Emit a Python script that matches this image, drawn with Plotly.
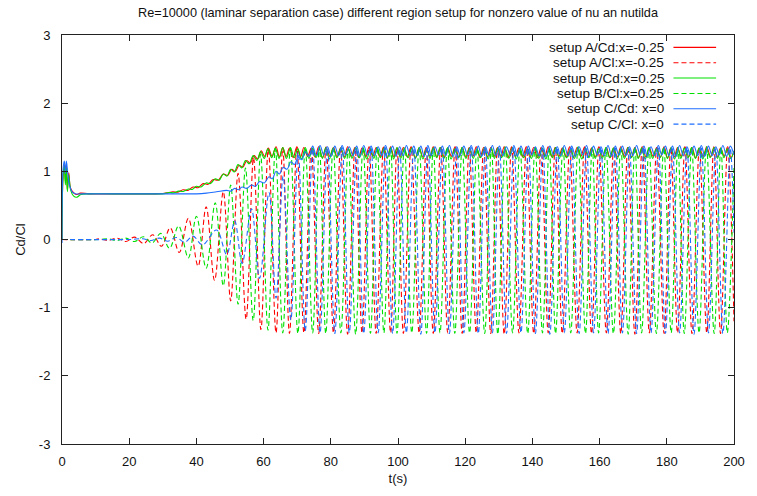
import plotly.graph_objects as go

# ---------------- data ----------------
title_text = "Re=10000 (laminar separation case) different region setup for nonzero value of nu an nutilda"
x_label = "t(s)"
y_label = "Cd/Cl"
x_tick_vals = [0, 20, 40, 60, 80, 100, 120, 140, 160, 180, 200]
x_tick_text = ["0", "20", "40", "60", "80", "100", "120", "140", "160", "180", "200"]
y_tick_vals = [-3, -2, -1, 0, 1, 2, 3]
y_tick_text = ["-3", "-2", "-1", "0", "1", "2", "3"]

series_names = ["setup A/Cd:x=-0.25", "setup A/Cl:x=-0.25", "setup B/Cd:x=0.25",
                "setup B/Cl:x=0.25", "setup C/Cd: x=0", "setup C/Cl: x=0"]
series_colors = ["#ff0000", "#ff0000", "#00e000", "#00e000", "#1e6eff", "#1e6eff"]
series_dashed = [False, True, False, True, False, True]

# ---- setup A, Cd (turning points) ----
cd_a_t = ([0, 0.3, 0.7, 1.0, 1.3, 1.6, 2.0, 2.5, 3.2, 4.2, 5.5, 8, 15, 22, 28]
          + [30, 31.6, 33.0, 34.5, 36.0, 37.5, 39.0, 40.5, 42.0, 43.5, 45.0, 46.5, 48.0,
             49.3, 50.5, 51.6, 52.7, 53.8, 55.0, 56.0, 57.2, 58.2, 59.3, 60.3, 61.4, 62.5]
          + [63.7, 64.7, 65.7, 66.7, 67.7, 68.8, 69.9, 71.0, 72.0, 73.1,
             74.2, 75.3, 76.4, 77.5, 78.6, 79.7, 80.8, 81.9, 82.9, 84.0,
             85.0, 86.1, 87.2, 88.3, 89.3, 90.4, 91.4, 92.5, 93.5, 94.6,
             95.7, 96.8, 97.8, 98.8, 99.7, 100.7, 101.6, 102.8, 103.9, 105.1,
             106.3, 107.4, 108.4, 109.5, 110.5, 111.6, 112.7, 113.8, 114.8, 115.9,
             117.0, 118.1, 119.1, 120.2, 121.2, 122.3, 123.3, 124.4, 125.5, 126.6,
             127.6, 128.6, 129.6, 130.6, 131.6, 132.7, 133.8, 134.9, 136.0, 137.1,
             138.2, 139.3, 140.4, 141.5, 142.6, 143.7, 144.7, 145.8, 146.8, 147.9,
             148.9, 150.0, 151.1, 152.2, 153.3, 154.4, 155.5, 156.6, 157.6, 158.7,
             159.8, 160.9, 162.0, 163.1, 164.2, 165.3, 166.3, 167.4, 168.4, 169.5,
             170.5, 171.6, 172.7, 173.8, 174.8, 175.9, 177.0, 178.1, 179.2, 180.2,
             181.2, 182.2, 183.2, 184.3, 185.4, 186.5, 187.5, 188.6, 189.7, 190.8,
             191.9, 193.0, 194.0, 195.0, 196.0, 197.1, 198.1, 199.1, 200.0])
cd_a_v = ([0.0, 0.92, 1.10, 0.85, 1.08, 0.72, 0.98, 0.76, 0.70, 0.66, 0.68, 0.67, 0.67, 0.67, 0.67]
          + [0.675, 0.685, 0.70, 0.695, 0.73, 0.72, 0.77, 0.76, 0.82, 0.81, 0.88, 0.87, 0.96,
             0.94, 1.03, 1.00, 1.09, 1.06, 1.16, 1.12, 1.23, 1.18, 1.30, 1.22, 1.34, 1.22]
          + [1.36, 1.21, 1.35, 1.22, 1.34, 1.20, 1.36, 1.21, 1.35, 1.22,
             1.34, 1.21, 1.36, 1.20, 1.35, 1.22, 1.35, 1.21, 1.34, 1.21,
             1.36, 1.22, 1.35, 1.20, 1.34, 1.21, 1.36, 1.22, 1.35, 1.21,
             1.35, 1.20, 1.36, 1.21, 1.34, 1.22, 1.35, 1.21, 1.36, 1.20,
             1.34, 1.21, 1.35, 1.22, 1.36, 1.21, 1.35, 1.20, 1.34, 1.22,
             1.36, 1.21, 1.35, 1.21, 1.34, 1.22, 1.36, 1.20, 1.35, 1.21,
             1.35, 1.22, 1.34, 1.21, 1.36, 1.20, 1.35, 1.22, 1.34, 1.21,
             1.36, 1.21, 1.35, 1.20, 1.34, 1.22, 1.36, 1.21, 1.35, 1.22,
             1.34, 1.21, 1.36, 1.20, 1.35, 1.22, 1.35, 1.21, 1.34, 1.21,
             1.36, 1.22, 1.35, 1.20, 1.34, 1.21, 1.36, 1.22, 1.35, 1.21,
             1.35, 1.20, 1.36, 1.21, 1.34, 1.22, 1.35, 1.21, 1.36, 1.20,
             1.34, 1.21, 1.35, 1.22, 1.36, 1.21, 1.35, 1.20, 1.34, 1.22,
             1.36, 1.21, 1.35, 1.21, 1.34, 1.22, 1.36, 1.20, 1.30])

# ---- setup A, Cl (peaks and troughs) ----
cl_a_t = [0, 10, 11, 13.7, 16.4, 19.0, 21.6, 24.3, 27.0, 29.6,
          32.2, 34.9, 37.6, 40.5, 42.9, 45.4, 48.0, 50.2, 52.4, 54.8,
          57.0, 59.2, 61.4, 63.7, 65.7, 67.7, 69.9, 72.0, 74.2, 76.4,
          78.6, 80.8, 82.9, 85.0, 87.2, 89.3, 91.4, 93.5, 95.7, 97.8,
          99.7, 101.6, 103.9, 106.3, 108.4, 110.5, 112.7, 114.8, 117.0, 119.1,
          121.2, 123.3, 125.5, 127.6, 129.6, 131.6, 133.8, 136.0, 138.2, 140.4,
          142.6, 144.7, 146.8, 148.9, 151.1, 153.3, 155.5, 157.6, 159.8, 162.0,
          164.2, 166.3, 168.4, 170.5, 172.7, 174.8, 177.0, 179.2, 181.2, 183.2,
          185.4, 187.5, 189.7, 191.9, 194.0, 196.0, 198.1, 200.0]
cl_a_v = [0, 0, 0.01, -0.015, 0.02, -0.03, 0.035, -0.06, 0.07, -0.10,
          0.17, -0.19, 0.31, -0.39, 0.48, -0.60, 0.70, -0.90, 0.97, -1.17,
          1.20, -1.32, 1.32, -1.37, 1.34, -1.38, 1.35, -1.37, 1.34, -1.38,
          1.36, -1.37, 1.35, -1.39, 1.34, -1.37, 1.35, -1.38, 1.36, -1.37,
          1.34, -1.38, 1.35, -1.37, 1.35, -1.38, 1.34, -1.37, 1.36, -1.38,
          1.35, -1.37, 1.34, -1.38, 1.35, -1.39, 1.36, -1.37, 1.34, -1.38,
          1.35, -1.37, 1.35, -1.38, 1.34, -1.37, 1.36, -1.38, 1.35, -1.37,
          1.34, -1.38, 1.35, -1.39, 1.36, -1.37, 1.34, -1.38, 1.35, -1.37,
          1.35, -1.38, 1.34, -1.37, 1.36, -1.38, 1.35, -1.2]

# ---- setup B, Cd ----
cd_b_t = ([0, 0.3, 0.7, 1.0, 1.3, 1.6, 2.0, 2.6, 3.4, 4.4, 5.6, 8, 15, 22, 28]
          + [30, 32.0, 33.3, 34.7, 36.1, 37.6, 38.8, 40.0, 41.4, 42.9, 44.2, 45.6, 46.8, 48.0,
             49.1, 50.2, 51.3, 52.4, 53.5, 54.6, 55.7, 56.9, 58.0, 59.1, 60.2, 61.3, 62.4, 63.5, 64.6]
          + [65.7, 66.8, 68.0, 69.1, 70.2, 71.3, 72.4, 73.5, 74.6, 75.6,
             76.6, 77.5, 78.5, 79.6, 80.7, 81.8, 83.0, 84.1, 85.2, 86.3,
             87.4, 88.5, 89.6, 90.7, 91.8, 92.8, 93.8, 94.8, 95.8, 96.8,
             97.8, 98.7, 99.7, 100.8, 101.9, 103.0, 104.1, 105.2, 106.3, 107.4,
             108.5, 109.5, 110.5, 111.5, 112.5, 113.6, 114.7, 115.8, 116.9, 118.0,
             119.1, 120.2, 121.3, 122.4, 123.5, 124.6, 125.8, 126.8, 127.8, 128.7,
             129.7, 130.8, 131.9, 133.0, 134.1, 135.2, 136.3, 137.4, 138.6, 139.7,
             140.8, 141.9, 143.0, 144.0, 145.0, 146.0, 146.9, 148.0, 149.1, 150.2,
             151.4, 152.5, 153.6, 154.7, 155.8, 156.8, 157.8, 158.7, 159.7, 160.8,
             161.9, 163.0, 164.1, 165.2, 166.3, 167.4, 168.5, 169.5, 170.5, 171.5,
             172.5, 173.6, 174.7, 175.8, 176.9, 178.0, 179.1, 180.2, 181.3, 182.3,
             183.3, 184.2, 185.2, 186.3, 187.4, 188.5, 189.6, 190.7, 191.8, 192.9,
             194.1, 195.1, 196.1, 197.0, 198.0, 199.0, 200.0])
cd_b_v = ([0.0, 0.90, 1.08, 0.80, 1.05, 0.70, 0.95, 0.72, 0.64, 0.62, 0.66, 0.67, 0.67, 0.67, 0.67]
          + [0.67, 0.69, 0.685, 0.71, 0.705, 0.74, 0.735, 0.78, 0.77, 0.83, 0.82, 0.89, 0.87, 0.96,
             0.93, 1.03, 0.99, 1.10, 1.05, 1.16, 1.11, 1.23, 1.16, 1.29, 1.19, 1.33, 1.20, 1.34, 1.19]
          + [1.35, 1.19, 1.34, 1.20, 1.33, 1.18, 1.35, 1.19, 1.34, 1.20,
             1.33, 1.19, 1.35, 1.18, 1.34, 1.20, 1.34, 1.19, 1.33, 1.19,
             1.35, 1.20, 1.34, 1.18, 1.33, 1.19, 1.35, 1.20, 1.34, 1.19,
             1.34, 1.18, 1.35, 1.19, 1.33, 1.20, 1.34, 1.19, 1.35, 1.18,
             1.33, 1.19, 1.34, 1.20, 1.35, 1.19, 1.34, 1.18, 1.33, 1.20,
             1.35, 1.19, 1.34, 1.19, 1.33, 1.20, 1.35, 1.18, 1.34, 1.19,
             1.34, 1.20, 1.33, 1.19, 1.35, 1.18, 1.34, 1.20, 1.33, 1.19,
             1.35, 1.19, 1.34, 1.18, 1.33, 1.20, 1.35, 1.19, 1.34, 1.20,
             1.33, 1.19, 1.35, 1.18, 1.34, 1.20, 1.34, 1.19, 1.33, 1.19,
             1.35, 1.20, 1.34, 1.18, 1.33, 1.19, 1.35, 1.20, 1.34, 1.19,
             1.34, 1.18, 1.35, 1.19, 1.33, 1.20, 1.34, 1.19, 1.35, 1.18,
             1.33, 1.19, 1.34, 1.20, 1.35, 1.19, 1.34, 1.18, 1.33, 1.20,
             1.35, 1.19, 1.34, 1.20, 1.33, 1.19, 1.30])

# ---- setup B, Cl ----
cl_b_t = [0, 11, 13.8, 16.4, 19.0, 21.6, 24.2, 26.8, 29.4, 32.0,
          34.7, 37.6, 40.0, 42.9, 45.6, 48.0, 50.2, 52.4, 54.6, 56.9,
          59.1, 61.3, 63.5, 65.7, 68.0, 70.2, 72.4, 74.6, 76.6, 78.5,
          80.7, 83.0, 85.2, 87.4, 89.6, 91.8, 93.8, 95.8, 97.8, 99.7,
          101.9, 104.1, 106.3, 108.5, 110.5, 112.5, 114.7, 116.9, 119.1, 121.3,
          123.5, 125.8, 127.8, 129.7, 131.9, 134.1, 136.3, 138.6, 140.8, 143.0,
          145.0, 146.9, 149.1, 151.4, 153.6, 155.8, 157.8, 159.7, 161.9, 164.1,
          166.3, 168.5, 170.5, 172.5, 174.7, 176.9, 179.1, 181.3, 183.3, 185.2,
          187.4, 189.6, 191.8, 194.1, 196.1, 198.0, 200.0]
cl_b_v = [0, 0, 0.01, -0.015, 0.02, -0.03, 0.04, -0.05, 0.09, -0.13,
          0.20, -0.27, 0.34, -0.42, 0.54, -0.68, 0.80, -0.95, 1.05, -1.19,
          1.25, -1.33, 1.33, -1.37, 1.35, -1.38, 1.34, -1.37, 1.36, -1.38,
          1.35, -1.37, 1.34, -1.39, 1.35, -1.38, 1.36, -1.37, 1.34, -1.38,
          1.35, -1.37, 1.35, -1.38, 1.34, -1.37, 1.36, -1.38, 1.35, -1.37,
          1.34, -1.38, 1.35, -1.39, 1.36, -1.37, 1.34, -1.38, 1.35, -1.37,
          1.35, -1.38, 1.34, -1.37, 1.36, -1.38, 1.35, -1.37, 1.34, -1.38,
          1.35, -1.39, 1.36, -1.37, 1.34, -1.38, 1.35, -1.37, 1.35, -1.38,
          1.34, -1.37, 1.36, -1.38, 1.35, -1.37, 1.1]

# ---- setup C, Cd ----
cd_c_t = ([0, 0.3, 0.7, 1.0, 1.3, 1.7, 2.2, 3.0, 4.0, 6, 15, 25, 35, 40]
          + [43, 46, 49.0, 50.2, 51.4, 52.5, 53.6, 55.0, 56.4, 57.6, 58.8, 60.2, 61.6, 62.6,
             63.7, 64.7, 65.8, 67.0, 68.1, 69.2, 70.3, 71.4, 72.4, 73.5]
          + [74.6, 75.7, 76.8, 77.9, 79.0, 80.1, 81.2, 82.3, 83.4, 84.4,
             85.5, 86.6, 87.7, 88.7, 89.8, 90.9, 92.0, 93.0, 94.1, 95.2,
             96.3, 97.3, 98.4, 99.4, 100.5, 101.5, 102.5, 103.6, 104.7, 105.7,
             106.8, 107.8, 108.9, 109.9, 111.0, 112.1, 113.2, 114.2, 115.3, 116.4,
             117.5, 118.5, 119.6, 120.7, 121.8, 122.8, 123.9, 124.9, 126.0, 127.0,
             128.1, 129.1, 130.2, 131.2, 132.3, 133.4, 134.5, 135.5, 136.6, 137.7,
             138.8, 139.8, 140.9, 142.0, 143.1, 144.1, 145.2, 146.3, 147.4, 148.4,
             149.5, 150.6, 151.7, 152.8, 153.9, 155.0, 156.1, 157.1, 158.2, 159.3,
             160.4, 161.4, 162.5, 163.6, 164.7, 165.7, 166.8, 167.8, 168.9, 169.9,
             171.0, 172.1, 173.2, 174.2, 175.3, 176.4, 177.5, 178.5, 179.6, 180.6,
             181.7, 182.7, 183.8, 184.9, 186.0, 187.0, 188.1, 189.2, 190.3, 191.3,
             192.4, 193.5, 194.6, 195.6, 196.7, 197.8, 198.9, 200.0])
cd_c_v = ([-0.05, 1.02, 1.15, 0.97, 1.15, 0.98, 0.80, 0.70, 0.67, 0.67, 0.67, 0.67, 0.67, 0.67]
          + [0.68, 0.70, 0.72, 0.71, 0.75, 0.73, 0.77, 0.75, 0.80, 0.78, 0.85, 0.83, 0.92, 0.89,
             1.00, 0.96, 1.06, 1.03, 1.14, 1.10, 1.21, 1.17, 1.29, 1.22]
          + [1.37, 1.23, 1.38, 1.24, 1.36, 1.22, 1.37, 1.23, 1.38, 1.24,
             1.36, 1.23, 1.37, 1.22, 1.38, 1.24, 1.37, 1.23, 1.36, 1.23,
             1.38, 1.24, 1.37, 1.22, 1.36, 1.23, 1.38, 1.24, 1.37, 1.23,
             1.37, 1.22, 1.38, 1.23, 1.36, 1.24, 1.37, 1.23, 1.38, 1.22,
             1.36, 1.23, 1.37, 1.24, 1.38, 1.23, 1.37, 1.22, 1.36, 1.24,
             1.38, 1.23, 1.37, 1.23, 1.36, 1.24, 1.38, 1.22, 1.37, 1.23,
             1.37, 1.24, 1.36, 1.23, 1.38, 1.22, 1.37, 1.24, 1.36, 1.23,
             1.38, 1.23, 1.37, 1.22, 1.36, 1.24, 1.38, 1.23, 1.37, 1.24,
             1.36, 1.23, 1.38, 1.22, 1.37, 1.24, 1.37, 1.23, 1.36, 1.23,
             1.38, 1.24, 1.37, 1.22, 1.36, 1.23, 1.38, 1.24, 1.37, 1.23,
             1.37, 1.22, 1.38, 1.23, 1.36, 1.24, 1.37, 1.23, 1.38, 1.22,
             1.37, 1.23, 1.36, 1.24, 1.38, 1.22, 1.37, 1.24])

# ---- setup C, Cl ----
cl_c_t = [0, 20, 24.0, 26.5, 29.0, 31.5, 34.0, 36.5, 39.0, 41.8,
          46.0, 49.0, 51.4, 53.6, 56.4, 58.8, 61.6, 63.7, 65.8, 68.1,
          70.3, 72.4, 74.6, 76.8, 79.0, 81.2, 83.4, 85.5, 87.7, 89.8,
          92.0, 94.1, 96.3, 98.4, 100.5, 102.5, 104.7, 106.8, 108.9, 111.0,
          113.2, 115.3, 117.5, 119.6, 121.8, 123.9, 126.0, 128.1, 130.2, 132.3,
          134.5, 136.6, 138.8, 140.9, 143.1, 145.2, 147.4, 149.5, 151.7, 153.9,
          156.1, 158.2, 160.4, 162.5, 164.7, 166.8, 168.9, 171.0, 173.2, 175.3,
          177.5, 179.6, 181.7, 183.8, 186.0, 188.1, 190.3, 192.4, 194.6, 196.7,
          198.9, 200.0]
cl_c_v = [0, 0, 0.01, -0.015, 0.02, -0.025, 0.03, -0.04, 0.05, -0.08,
          0.14, -0.22, 0.27, -0.35, 0.45, -0.57, 0.69, -0.86, 0.93, -1.18,
          1.28, -1.34, 1.33, -1.37, 1.34, -1.38, 1.35, -1.37, 1.33, -1.38,
          1.34, -1.37, 1.35, -1.38, 1.33, -1.37, 1.34, -1.39, 1.35, -1.37,
          1.34, -1.38, 1.33, -1.37, 1.35, -1.38, 1.34, -1.37, 1.33, -1.38,
          1.35, -1.37, 1.34, -1.38, 1.33, -1.39, 1.35, -1.37, 1.34, -1.38,
          1.33, -1.37, 1.35, -1.38, 1.34, -1.37, 1.33, -1.38, 1.35, -1.37,
          1.34, -1.38, 1.33, -1.37, 1.35, -1.39, 1.34, -1.37, 1.33, -1.38,
          1.34, 0.1]

series_t = [cd_a_t, cl_a_t, cd_b_t, cl_b_t, cd_c_t, cl_c_t]
series_v = [cd_a_v, cl_a_v, cd_b_v, cl_b_v, cd_c_v, cl_c_v]

# ---------------- figure ----------------
FONT = "Liberation Sans, Arial, Helvetica, sans-serif"
fig = go.Figure()
for name, t, v, col, dashed in zip(series_names, series_t, series_v, series_colors, series_dashed):
    n = min(len(t), len(v))
    fig.add_trace(go.Scatter(
        x=t[:n], y=v[:n], mode="lines", name=name, showlegend=False,
        line=dict(color=col, width=1.1, dash="5px,3px" if dashed else "solid",
                  shape="spline", smoothing=1.0),
        hoverinfo="skip"))

# gnuplot-style key: right-aligned text followed by a line sample
key_text_x = 0.8966
key_line_x0 = 0.9099
key_line_x1 = 0.9734
key_rows_y = [0.9697, 0.9322, 0.8947, 0.8571, 0.8196, 0.7821]
annotations = []
shapes = []
for name, col, dashed, yy in zip(series_names, series_colors, series_dashed, key_rows_y):
    annotations.append(dict(text=name, x=key_text_x, y=yy, xref="paper", yref="paper",
                            xanchor="right", yanchor="middle", showarrow=False,
                            borderpad=0,
                            font=dict(family=FONT, size=13.5, color="#111")))
    shapes.append(dict(type="line", xref="paper", yref="paper",
                       x0=key_line_x0, x1=key_line_x1, y0=yy, y1=yy,
                       line=dict(color=col, width=1.1, dash="5px,3px" if dashed else "solid")))

axis_common = dict(showgrid=False, zeroline=False, showline=True, linecolor="#222",
                   linewidth=1, mirror="ticks", ticks="inside", ticklen=6,
                   tickcolor="#222", tickwidth=1,
                   tickfont=dict(family=FONT, size=13, color="#111"))

fig.update_layout(
    width=757, height=496,
    margin=dict(l=62, r=18, t=35, b=48, pad=0),
    paper_bgcolor="white", plot_bgcolor="white",
    title=dict(text=title_text, x=0.5, xref="paper", xanchor="center",
               y=1 - 13 / 496, yref="container", yanchor="middle",
               font=dict(family=FONT, size=12.7, color="#111")),
    xaxis=dict(range=[0, 200], tickmode="array", tickvals=x_tick_vals, ticktext=x_tick_text,
               title=dict(text=x_label, standoff=6, font=dict(family=FONT, size=13, color="#111")),
               ticklabelstandoff=5, **axis_common),
    yaxis=dict(range=[-3, 3], tickmode="array", tickvals=y_tick_vals, ticktext=y_tick_text,
               title=dict(text=y_label, standoff=10, font=dict(family=FONT, size=13, color="#111")),
               ticklabelstandoff=8, **axis_common),
    annotations=annotations, shapes=shapes,
    showlegend=False,
)

fig.write_html("out.html")
